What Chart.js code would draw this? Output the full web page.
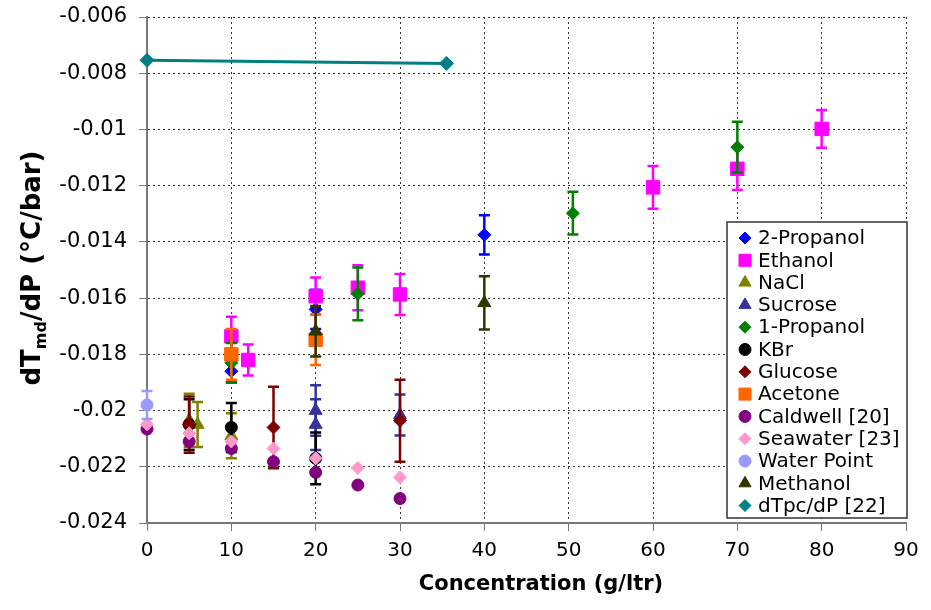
<!DOCTYPE html>
<html lang="en">
<head>
<meta charset="UTF-8">
<title>dTmd/dP vs Concentration</title>
<script src="https://cdn.jsdelivr.net/npm/chart.js"></script>
<style>
  html, body { margin: 0; padding: 0; background: #fff; }
</style>
</head>
<body>
<canvas id="chart" width="931" height="610"></canvas>
<script>
// axis ticks
const xTicks = [0, 10, 20, 30, 40, 50, 60, 70, 80, 90];
const yTicks = [-0.024, -0.022, -0.02, -0.018, -0.016, -0.014, -0.012, -0.01, -0.008, -0.006];
const yTickLabels = ['-0.024', '-0.022', '-0.02', '-0.018', '-0.016', '-0.014', '-0.012', '-0.01', '-0.008', '-0.006'];

// data (x = g/ltr, y = degC/bar, err = +/- bar)
const propanol2X = [10, 20, 40];
const propanol2Y = [-0.0186, -0.0164, -0.01375];
const propanol2Err = [0.0004, 0.0007, 0.0007];

const ethanolX = [10, 12, 20, 25, 30, 60, 70, 80];
const ethanolY = [-0.01736, -0.0182, -0.01593, -0.01563, -0.01587, -0.01206, -0.0114, -0.00998];
const ethanolErr = [0.0007, 0.00055, 0.00066, 0.0008, 0.00073, 0.00076, 0.00075, 0.00067];

const naclX = [5, 6, 10];
const naclY = [-0.02035, -0.0205, -0.0209];
const naclErr = [0.00095, 0.0008, 0.0008];

const sucroseX = [20, 20, 30];
const sucroseY = [-0.02, -0.0205, -0.02016];
const sucroseErr = [0.0009, 0.0009, 0.00073];

const propanol1X = [10, 25, 50.5, 70];
const propanol1Y = [-0.0183, -0.01585, -0.01298, -0.01063];
const propanol1Err = [0.0007, 0.00094, 0.00076, 0.0009];

const kbrX = [5, 10, 20];
const kbrY = [-0.0205, -0.0206, -0.0217];
const kbrErr = [0.0009, 0.00087, 0.00092];

const glucoseX = [5, 15, 30];
const glucoseY = [-0.0205, -0.0206, -0.02036];
const glucoseErr = [0.001, 0.00145, 0.00146];

const acetoneX = [10, 20];
const acetoneY = [-0.018, -0.01748];
const acetoneErr = [0.0009, 0.0009];

const caldwellX = [0, 5, 10, 15, 20, 25, 30];
const caldwellY = [-0.02066, -0.0211, -0.02135, -0.02182, -0.0222, -0.02265, -0.02313];

const seawaterX = [0, 5, 10, 15, 20, 25, 30];
const seawaterY = [-0.02049, -0.02081, -0.0211, -0.02135, -0.0217, -0.02204, -0.02237];

const waterX = [0];
const waterY = [-0.0198];
const waterErr = [0.0005];

const methanolX = [20, 40];
const methanolY = [-0.01718, -0.01617];
const methanolErr = [0.0009, 0.00095];

const dtpcX = [0, 35.5];
const dtpcY = [-0.00754, -0.00765];

const FONT = 'DejaVu Sans';

// series in legend order; later ones are painted on top (like Excel)
const seriesList = [
  { name: '2-Propanol', x: propanol2X, y: propanol2Y, err: propanol2Err, color: '#0000FF', style: 'rectRot', r: 6.5 },
  { name: 'Ethanol', x: ethanolX, y: ethanolY, err: ethanolErr, color: '#FF00FF', style: 'rect', r: 9.5 },
  { name: 'NaCl', x: naclX, y: naclY, err: naclErr, color: '#808000', style: 'triangle', r: 7.5 },
  { name: 'Sucrose', x: sucroseX, y: sucroseY, err: sucroseErr, color: '#333399', style: 'triangle', r: 7.5 },
  { name: '1-Propanol', x: propanol1X, y: propanol1Y, err: propanol1Err, color: '#008000', style: 'rectRot', r: 6.5 },
  { name: 'KBr', x: kbrX, y: kbrY, err: kbrErr, color: '#000000', style: 'circle', r: 6 },
  { name: 'Glucose', x: glucoseX, y: glucoseY, err: glucoseErr, color: '#800000', style: 'rectRot', r: 6.5 },
  { name: 'Acetone', x: acetoneX, y: acetoneY, err: acetoneErr, color: '#FF6600', style: 'rect', r: 9.5 },
  { name: 'Caldwell [20]', x: caldwellX, y: caldwellY, err: null, color: '#800080', style: 'circle', r: 6 },
  { name: 'Seawater [23]', x: seawaterX, y: seawaterY, err: null, color: '#FF99CC', style: 'rectRot', r: 6.5 },
  { name: 'Water Point', x: waterX, y: waterY, err: waterErr, color: '#9999FF', style: 'circle', r: 6 },
  { name: 'Methanol', x: methanolX, y: methanolY, err: methanolErr, color: '#333300', style: 'triangle', r: 7.5 },
  { name: 'dTpc/dP [22]', x: dtpcX, y: dtpcY, err: null, color: '#008080', style: 'rectRot', r: 7, line: true }
];

const datasets = seriesList.map((s, i) => ({
  label: s.name,
  data: s.x.map((v, j) => ({ x: v, y: s.y[j] })),
  showLine: !!s.line,
  borderColor: s.color,
  backgroundColor: s.color,
  borderWidth: 3,
  pointStyle: s.style,
  pointRadius: s.r,
  pointBorderWidth: 1,
  pointBackgroundColor: s.color,
  pointBorderColor: s.color,
  clip: false,
  order: seriesList.length - i
}));

// error bars drawn just under each series' own markers
const errorBars = {
  id: 'errorBars',
  beforeDatasetDraw(chart, args) {
    const s = seriesList[args.index];
    if (!s.err) return;
    const ctx = chart.ctx;
    const xs = chart.scales.x, ys = chart.scales.y;
    ctx.save();
    ctx.strokeStyle = s.color;
    ctx.lineWidth = 2.5;
    s.x.forEach((xv, i) => {
      const px = xs.getPixelForValue(xv);
      const top = ys.getPixelForValue(s.y[i] + s.err[i]);
      const bot = ys.getPixelForValue(s.y[i] - s.err[i]);
      ctx.beginPath();
      ctx.moveTo(px, top); ctx.lineTo(px, bot);
      ctx.moveTo(px - 5.5, top); ctx.lineTo(px + 5.5, top);
      ctx.moveTo(px - 5.5, bot); ctx.lineTo(px + 5.5, bot);
      ctx.stroke();
    });
    ctx.restore();
  }
};

// boxed legend inside the plot, bottom right
const boxLegend = {
  id: 'boxLegend',
  afterDraw(chart) {
    const ctx = chart.ctx;
    const left = 727, top = 222, w = 180, h = 296;
    ctx.save();
    ctx.fillStyle = '#fff';
    ctx.fillRect(left, top, w, h);
    ctx.strokeStyle = '#333';
    ctx.lineWidth = 1.5;
    ctx.strokeRect(left, top, w, h);
    ctx.font = '20px "' + FONT + '"';
    ctx.textBaseline = 'middle';
    ctx.textAlign = 'left';
    seriesList.forEach((s, i) => {
      const cy = top + 16 + i * 22.3;
      ctx.fillStyle = s.color;
      ctx.strokeStyle = s.color;
      ctx.lineWidth = 1;
      const r = s.style === 'rect' ? 8.5 : (s.style === 'triangle' ? 7 : 6);
      Chart.helpers.drawPoint(ctx, { pointStyle: s.style, radius: r, borderWidth: 1 }, left + 18, cy);
      ctx.fillStyle = '#000';
      ctx.fillText(s.name, left + 31, cy + 1);
    });
    ctx.restore();
  }
};

// axis titles (y has the subscript "md")
const axisTitles = {
  id: 'axisTitles',
  afterDraw(chart) {
    const ctx = chart.ctx;
    const big = 'bold 26px "' + FONT + '"';
    const small = 'bold 16px "' + FONT + '"';
    const parts = [['dT', big, 0], ['md', small, 6], ['/dP (°C/bar)', big, 0]];
    ctx.save();
    ctx.fillStyle = '#000';
    ctx.textBaseline = 'middle';
    ctx.textAlign = 'center';
    ctx.font = 'bold 21px "' + FONT + '"';
    ctx.fillText('Concentration (g/ltr)', 541, 585);

    let total = 0;
    parts.forEach(p => { ctx.font = p[1]; total += ctx.measureText(p[0]).width; });
    ctx.translate(40, 268);
    ctx.rotate(-Math.PI / 2);
    ctx.textBaseline = 'alphabetic';
    ctx.textAlign = 'left';
    let cx = -total / 2;
    parts.forEach(p => {
      ctx.font = p[1];
      ctx.fillText(p[0], cx, p[2]);
      cx += ctx.measureText(p[0]).width;
    });
    ctx.restore();
  }
};

new Chart(document.getElementById('chart'), {
  type: 'scatter',
  data: { datasets: datasets },
  plugins: [errorBars, boxLegend, axisTitles],
  options: {
    responsive: false,
    animation: false,
    layout: { padding: { top: 17, right: 25, left: 0, bottom: 0 } },
    plugins: { legend: { display: false }, tooltip: { enabled: false } },
    scales: {
      x: {
        type: 'linear',
        min: 0, max: 90,
        afterBuildTicks: s => { s.ticks = xTicks.map(v => ({ value: v })); },
        afterFit: s => { s.height = 87; s.paddingLeft = 0; s.paddingRight = 0; },
        ticks: { color: '#000', font: { family: FONT, size: 20 }, padding: 8, maxRotation: 0 },
        grid: { color: '#333', lineWidth: 1, tickColor: '#777', tickLength: 8, tickBorderDash: [] },
        border: { display: true, color: '#777', width: 2, dash: [2, 3] }
      },
      y: {
        type: 'linear',
        min: -0.024, max: -0.006,
        afterBuildTicks: s => { s.ticks = yTicks.map(v => ({ value: v })); },
        afterFit: s => { s.width = 147; s.paddingTop = 0; s.paddingBottom = 0; },
        ticks: {
          color: '#000', font: { family: FONT, size: 21 }, padding: 12,
          callback: (v, i) => yTickLabels[i]
        },
        grid: { color: '#333', lineWidth: 1, tickColor: '#777', tickLength: 8, tickBorderDash: [] },
        border: { display: true, color: '#777', width: 2, dash: [2, 3] }
      }
    }
  }
});
</script>
</body>
</html>
